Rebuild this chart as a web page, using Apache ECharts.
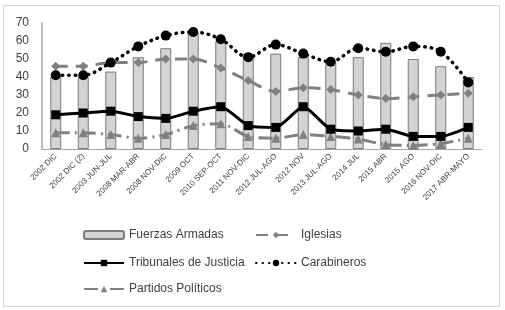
<!DOCTYPE html>
<html>
<head>
<meta charset="utf-8">
<script src="https://cdn.jsdelivr.net/npm/echarts@6/dist/echarts.min.js"></script>
<style>
    html, body { margin: 0; padding: 0; background: #fff; }
    #main { width: 505px; height: 310px; }
</style>
</head>
<body>
<div id="main"></div>
<script>
// periodos de encuesta
var categories = ['2002 DIC', '2002 DIC (2)', '2003 JUN-JUL', '2008 MAR-ABR', '2008 NOV-DIC', '2009 OCT',
    '2010 SEP-OCT', '2011 NOV-DIC', '2012 JUL-AGO', '2012 NOV', '2013 JUL-AGO', '2014 JUL',
    '2015 ABR', '2015 AGO', '2016 NOV-DIC', '2017 ABR-MAYO'];

var fuerzasArmadas = [40, 40, 43, 51, 56, 65, 60, 53, 53, 51, 48, 51, 59, 50, 46, 40];
var iglesias = [46, 46, 48, 48, 50, 50, 45, 38, 32, 34, 33, 30, 28, 29, 30, 31];
var tribunales = [19, 20, 21, 18, 17, 21, 23.5, 13, 12, 23.5, 11, 10, 11, 7, 7, 12];
var carabineros = [41, 41, 48, 57, 63, 65, 61, 51, 58, 53, 48.5, 56, 54, 57, 54, 37];
var partidos = [9, 9, 8, 6, 8, 13, 14, 7, 6, 8, 7, 5.5, 2.5, 2, 3, 6];

var yTicks = [0, 10, 20, 30, 40, 50, 60, 70];

var font = 'Liberation Sans';
var gray = '#808080';

var myChart = echarts.init(document.getElementById('main'), null, {renderer: 'canvas'});

var legendBase = function (name, left, top) {
    return {
        data: [name],
        left: left,
        top: top,
        padding: 0,
        itemWidth: 40,
        itemHeight: 8,
        itemGap: 4,
        textStyle: {fontFamily: font, fontSize: 12, color: '#404040'},
        selectedMode: false
    };
};

var option = {
    animation: false,
    textStyle: {fontFamily: font},
    graphic: [{
        type: 'rect',
        shape: {x: 3.5, y: 5.5, width: 496, height: 301},
        style: {fill: 'none', stroke: '#d4d4d4', lineWidth: 1},
        silent: true
    }],
    grid: {left: 42, right: 23, top: 23, bottom: 161},
    legend: [
        legendBase('Fuerzas Armadas', 83, 229),
        legendBase('Iglesias', 255, 229),
        legendBase('Tribunales de Justicia', 83, 257),
        legendBase('Carabineros', 255, 257),
        legendBase('Partidos Políticos', 83, 283)
    ],
    xAxis: {
        type: 'category',
        data: categories,
        axisLine: {lineStyle: {color: '#a6a6a6', width: 1}},
        axisTick: {show: false},
        axisLabel: {
            interval: 0,
            rotate: 45,
            fontSize: 8,
            color: '#404040',
            margin: 6,
            fontFamily: font
        }
    },
    yAxis: {
        type: 'value',
        min: yTicks[0],
        max: yTicks[yTicks.length - 1],
        interval: 10,
        axisLine: {show: true, lineStyle: {color: '#a6a6a6', width: 1.5}},
        axisTick: {show: false},
        splitLine: {show: false},
        axisLabel: {fontSize: 12, color: '#404040', margin: 13, fontFamily: font}
    },
    series: [{
        name: 'Fuerzas Armadas',
        type: 'bar',
        data: fuerzasArmadas,
        barWidth: 11,
        itemStyle: {color: '#d3d3d3', borderColor: '#7a7a7a', borderWidth: 1}
    }, {
        name: 'Partidos Políticos',
        type: 'line',
        data: partidos,
        smooth: 0.3,
        symbol: 'triangle',
        symbolSize: 9,
        lineStyle: {color: gray, width: 3, type: [14, 5, 2, 5]},
        itemStyle: {color: gray}
    }, {
        name: 'Iglesias',
        type: 'line',
        data: iglesias,
        smooth: 0.3,
        symbol: 'diamond',
        symbolSize: 9,
        lineStyle: {color: gray, width: 3, type: [12, 8]},
        itemStyle: {color: gray}
    }, {
        name: 'Tribunales de Justicia',
        type: 'line',
        data: tribunales,
        smooth: 0.2,
        symbol: 'rect',
        symbolSize: 9,
        lineStyle: {color: '#000', width: 3},
        itemStyle: {color: '#000'}
    }, {
        name: 'Carabineros',
        type: 'line',
        data: carabineros,
        smooth: 0.35,
        symbol: 'circle',
        symbolSize: 10,
        lineStyle: {color: '#000', width: 3.5, type: [0.5, 6], cap: 'round'},
        itemStyle: {color: '#000'}
    }]
};

myChart.setOption(option);
</script>
</body>
</html>
